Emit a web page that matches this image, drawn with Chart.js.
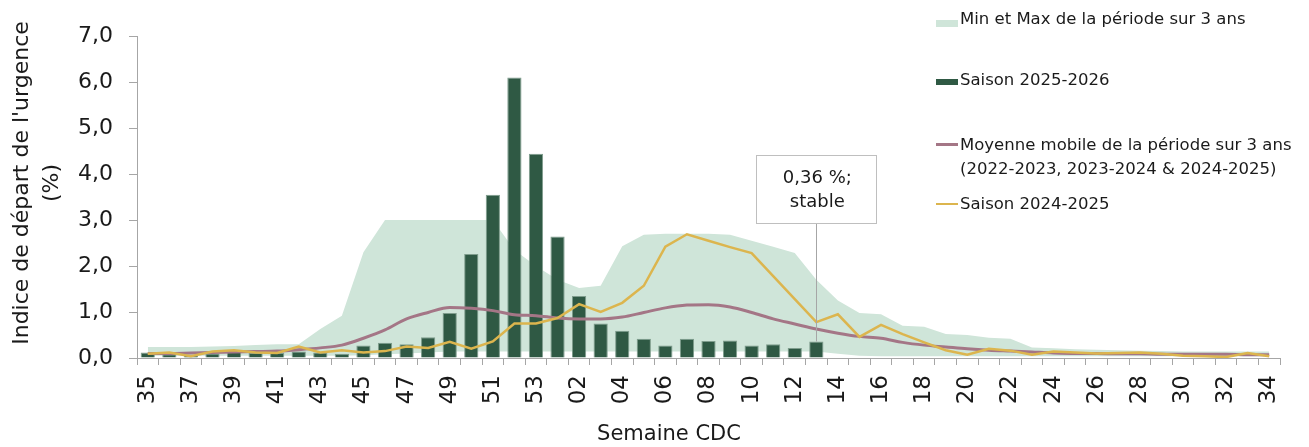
<!DOCTYPE html>
<html lang="fr">
<head>
<meta charset="utf-8">
<title>Indice de départ de l'urgence</title>
<script src="https://cdn.jsdelivr.net/npm/chart.js@4"></script>
<style>
  html, body { margin: 0; padding: 0; background: #fff; }
  #wrap { position: relative; width: 1309px; height: 447px; }
  #legend { position: absolute; left: 0; top: 0; font-family: "DejaVu Sans", sans-serif; font-size: 16.5px; color: #1a1a1a; }
  .item { position: absolute; left: 960px; white-space: nowrap; line-height: 24px; }
  .mark { position: absolute; left: 936px; width: 22px; }
</style>
</head>
<body>
<div id="wrap">
  <canvas id="chart" width="1309" height="447"></canvas>
  <div id="legend">
    <span class="mark" style="top:20px;height:7px;background:#cfe5d9;"></span>
    <div class="item" style="top:7px;">Min et Max de la période sur 3 ans</div>
    <span class="mark" style="top:79px;height:6px;background:#2f5944;"></span>
    <div class="item" style="top:68px;">Saison 2025-2026</div>
    <span class="mark" style="top:143px;height:3px;background:#a47686;"></span>
    <div class="item" style="top:133px;">Moyenne mobile de la période sur 3 ans<br>(2022-2023, 2023-2024 &amp; 2024-2025)</div>
    <span class="mark" style="top:203px;height:2px;background:#dcb54e;"></span>
    <div class="item" style="top:192px;">Saison 2024-2025</div>
  </div>
</div>
<script>
// semaines CDC (35 -> 53, puis 01 -> 34)
const semaines = ['35','36','37','38','39','40','41','42','43','44','45','46','47','48','49','50','51','52','53',
  '01','02','03','04','05','06','07','08','09','10','11','12','13','14','15','16','17','18','19','20',
  '21','22','23','24','25','26','27','28','29','30','31','32','33','34'];

// Saison 2025-2026 (barres)
const saison2526 = [0.12,0.08,0.06,0.10,0.13,0.11,0.11,0.14,0.12,0.09,0.27,0.33,0.30,0.45,0.98,2.26,3.55,6.10,4.44,
  2.64,1.35,0.75,0.59,0.42,0.27,0.42,0.37,0.38,0.27,0.30,0.22,0.36,
  null,null,null,null,null,null,null,null,null,null,null,null,null,null,null,null,null,null,null,null,null];

// Saison 2024-2025
const saison2425 = [0.09,0.12,0.04,0.14,0.17,0.12,0.11,0.25,0.12,0.17,0.12,0.15,0.25,0.22,0.35,0.20,0.36,0.75,0.75,
  0.87,1.17,1.00,1.20,1.57,2.42,2.69,2.55,2.41,2.28,1.78,1.28,0.78,0.95,0.46,0.72,0.52,0.34,0.17,0.07,
  0.20,0.16,0.07,0.14,0.12,0.10,0.11,0.12,0.09,0.05,0.04,0.02,0.11,0.04];

// Moyenne mobile sur 3 ans
const moyenne3ans = [0.10,0.10,0.11,0.12,0.13,0.14,0.15,0.18,0.22,0.28,0.43,0.61,0.85,0.99,1.10,1.08,1.03,0.94,0.92,
  0.87,0.85,0.85,0.89,0.99,1.09,1.15,1.16,1.11,0.99,0.85,0.74,0.63,0.54,0.47,0.43,0.34,0.28,0.24,0.20,
  0.17,0.15,0.13,0.11,0.10,0.10,0.09,0.09,0.08,0.08,0.08,0.08,0.07,0.07];

// Min et Max sur 3 ans
const max3ans = [0.24,0.24,0.24,0.25,0.26,0.28,0.30,0.30,0.63,0.92,2.30,3.00,3.00,3.00,3.00,3.00,3.00,2.35,2.00,
  1.70,1.52,1.57,2.43,2.68,2.70,2.70,2.70,2.68,2.55,2.42,2.28,1.70,1.25,0.98,0.95,0.70,0.68,0.52,0.50,
  0.44,0.42,0.23,0.21,0.19,0.18,0.17,0.16,0.15,0.14,0.14,0.14,0.14,0.14];
const min3ans = [0.05,0.05,0.05,0.05,0.05,0.05,0.05,0.05,0.05,0.05,0.06,0.08,0.10,0.12,0.14,0.14,0.14,0.14,0.14,
  0.14,0.14,0.14,0.14,0.14,0.14,0.14,0.14,0.14,0.14,0.14,0.14,0.14,0.09,0.05,0.04,0.04,0.04,0.04,0.04,
  0.04,0.04,0.04,0.04,0.04,0.04,0.04,0.04,0.04,0.04,0.04,0.04,0.04,0.04];

// annotation
const annotationSemaine = '13';
const annotationTexte = ['0,36 %;', 'stable'];
const titreY = ["Indice de départ de l'urgence", '(%)'];
const titreX = 'Semaine CDC';

Chart.defaults.font.family = '"DejaVu Sans", sans-serif';
Chart.defaults.color = '#1a1a1a';

// titres des axes + boite de texte
const extras = {
  id: 'extras',
  afterDatasetsDraw(chart) {
    const ctx = chart.ctx;
    const idx = semaines.indexOf(annotationSemaine);
    const bar = chart.getDatasetMeta(2).data[idx];
    const boxW = 120, boxH = 68;
    const boxTop = chart.chartArea.top + 119;
    ctx.save();
    ctx.strokeStyle = '#a6a6a6';
    ctx.lineWidth = 1;
    ctx.beginPath();
    ctx.moveTo(Math.round(bar.x) + 0.5, boxTop + boxH);
    ctx.lineTo(Math.round(bar.x) + 0.5, bar.y);
    ctx.stroke();
    ctx.fillStyle = '#fff';
    ctx.strokeStyle = '#bfbfbf';
    const bx = Math.round(bar.x - boxW / 2) + 0.5;
    ctx.fillRect(bx, boxTop + 0.5, boxW, boxH);
    ctx.strokeRect(bx, boxTop + 0.5, boxW, boxH);
    ctx.fillStyle = '#1a1a1a';
    ctx.font = '18px "DejaVu Sans", sans-serif';
    ctx.textAlign = 'center';
    ctx.textBaseline = 'middle';
    ctx.fillText(annotationTexte[0], bar.x + 1, boxTop + 23);
    ctx.fillText(annotationTexte[1], bar.x + 1, boxTop + 47);
    ctx.restore();
  },
  afterDraw(chart) {
    const ctx = chart.ctx;
    ctx.save();
    ctx.fillStyle = '#1a1a1a';
    ctx.font = '21px "DejaVu Sans", sans-serif';
    ctx.textAlign = 'center';
    ctx.textBaseline = 'middle';
    ctx.fillText(titreX, 669, 435);
    // titre y sur deux lignes, tourne
    ctx.font = '22px "DejaVu Sans", sans-serif';
    ctx.translate(22, 183);
    ctx.rotate(-Math.PI / 2);
    ctx.fillText(titreY[0], 0, 0);
    ctx.fillText(titreY[1], 0, 30);
    ctx.restore();
  }
};

const ctx = document.getElementById('chart').getContext('2d');
const chart = new Chart(ctx, {
  type: 'bar',
  data: {
    labels: semaines,
    datasets: [
      {
        type: 'line',
        label: 'Min',
        data: min3ans,
        borderWidth: 0,
        pointRadius: 0,
        fill: false,
        order: 6,
      },
      {
        type: 'line',
        label: 'Min et Max de la période sur 3 ans',
        data: max3ans,
        borderWidth: 0,
        pointRadius: 0,
        backgroundColor: '#cfe5d9',
        fill: '-1',
        order: 5,
      },
      {
        label: 'Saison 2025-2026',
        data: saison2526,
        backgroundColor: '#2f5944',
        borderColor: '#7f9d8d',
        borderWidth: 1,
        barPercentage: 1,
        categoryPercentage: 0.66,
        order: 3,
      },
      {
        type: 'line',
        label: 'Moyenne mobile de la période sur 3 ans',
        data: moyenne3ans,
        borderColor: '#a47686',
        borderWidth: 3,
        pointRadius: 0,
        cubicInterpolationMode: 'monotone',
        fill: false,
        order: 2,
      },
      {
        type: 'line',
        label: 'Saison 2024-2025',
        data: saison2425,
        borderColor: '#dcb54e',
        borderWidth: 2.5,
        pointRadius: 0,
        tension: 0,
        fill: false,
        order: 1,
      },
    ],
  },
  options: {
    responsive: false,
    animation: false,
    layout: {
      padding: { top: 36, right: 29, left: 0, bottom: 0 },
    },
    plugins: {
      legend: { display: false },
      tooltip: { enabled: false },
    },
    scales: {
      x: {
        grid: {
          display: true,
          drawOnChartArea: false,
          offset: true,
          tickLength: 7,
          color: '#a6a6a6',
        },
        border: { color: '#a6a6a6' },
        ticks: {
          autoSkip: false,
          minRotation: 90,
          maxRotation: 90,
          padding: 10,
          font: { size: 23 },
          callback: (v, i) => (i % 2 === 0 ? semaines[i] : ''),
        },
        afterFit: (s) => { s.height = 89; },
      },
      y: {
        min: 0,
        max: 7,
        ticks: {
          stepSize: 1,
          padding: 16,
          font: { size: 22 },
          callback: (v) => v.toFixed(1).replace('.', ','),
        },
        grid: {
          drawOnChartArea: false,
          tickLength: 8,
          color: '#a6a6a6',
        },
        border: { color: '#a6a6a6' },
        afterFit: (s) => { s.width = 137; },
      },
    },
  },
  plugins: [extras],
});
</script>
</body>
</html>
